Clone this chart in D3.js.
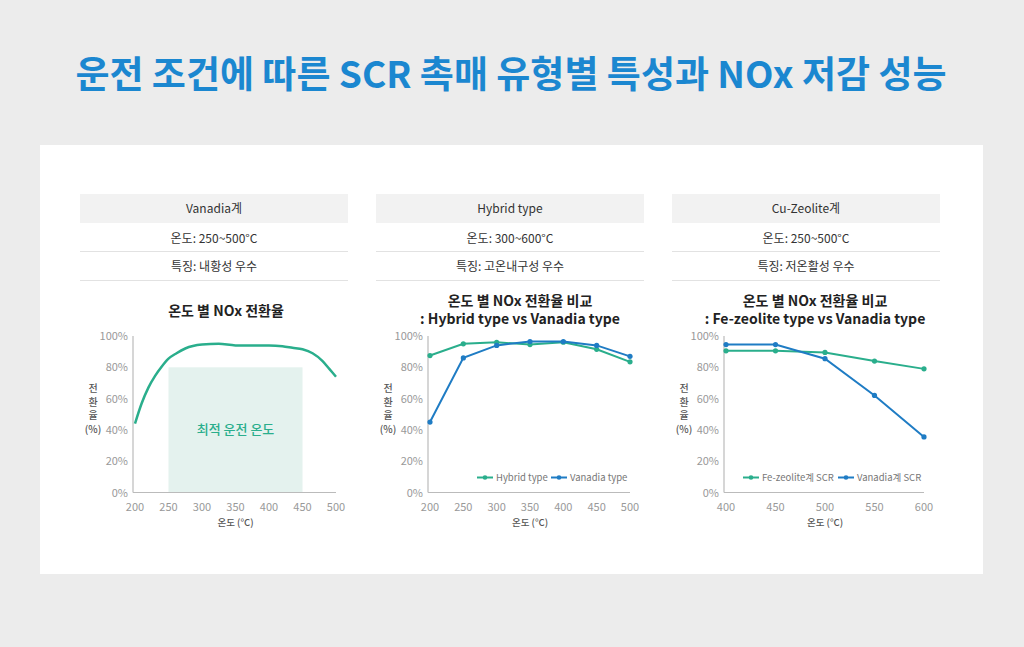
<!DOCTYPE html>
<html>
<head>
<meta charset="utf-8">
<script src="https://cdn.jsdelivr.net/npm/d3@7"></script>
<style>
  body { margin: 0; background: #ececec; }
  svg { display: block; font-family: "Noto Sans CJK KR", "Noto Sans", sans-serif; }
</style>
</head>
<body>
<svg id="chart" width="1024" height="647"></svg>
<script>
// data
const mainTitle = "운전 조건에 따른 SCR 촉매 유형별 특성과 NOx 저감 성능"
const panelNames = ["Vanadia계", "Hybrid type", "Cu-Zeolite계"]
const panelTemps = ["온도: 250~500°C", "온도: 300~600°C", "온도: 250~500°C"]
const panelFeatures = ["특징: 내황성 우수", "특징: 고온내구성 우수", "특징: 저온활성 우수"]

// chart 1 : vanadia curve
const curveTemps = [200, 210, 220, 230, 240, 250, 262, 275, 300, 325, 350, 375, 400, 420, 435, 450, 465, 480, 490, 500]
const curveRates = [44, 57, 67, 74.5, 80.5, 85.5, 89, 92, 94.5, 95, 94, 94, 94, 93.5, 92.5, 91.5, 89, 84, 79, 74]
const optimalRange = [250, 450]
const optimalTop = 80

// chart 2 : hybrid vs vanadia
const temps2 = [200, 250, 300, 350, 400, 450, 500]
const hybridRates = [87.5, 95, 96, 94.5, 96, 91.5, 83.5]
const vanadiaRates2 = [45, 86, 94, 96.5, 96.5, 94, 87]

// chart 3 : fe-zeolite vs vanadia
const temps3 = [400, 450, 500, 550, 600]
const feZeoliteRates = [90.5, 90.5, 89.5, 84, 79]
const vanadiaRates3 = [94.5, 94.5, 85.5, 62, 35.5]

const yTicks = [0, 20, 40, 60, 80, 100]

const green = "#2aae8c"
const blue = "#1f7cc4"
const svg = d3.select("#chart")

svg.append("rect").attr("width", 1024).attr("height", 647).attr("fill", "#ececec")
svg.append("rect")
    .attr("x", 40).attr("y", 145).attr("width", 943).attr("height", 429)
    .attr("fill", "#fff")

svg.append("text")
    .attr("x", 511).attr("y", 88)
    .attr("text-anchor", "middle")
    .attr("font-size", 37).attr("font-weight", 700)
    .attr("fill", "#1b87d0")
    .text(mainTitle)

// header tables
const panelX = [80, 376, 672]
const panelW = 268
panelNames.forEach((name, i) => {
    const g = svg.append("g").attr("transform", `translate(${panelX[i]},0)`)
    g.append("rect").attr("x", 0).attr("y", 194).attr("width", panelW).attr("height", 29).attr("fill", "#f2f2f2")
    g.append("line").attr("x1", 0).attr("x2", panelW).attr("y1", 251.5).attr("y2", 251.5).attr("stroke", "#e2e2e2")
    g.append("line").attr("x1", 0).attr("x2", panelW).attr("y1", 280.5).attr("y2", 280.5).attr("stroke", "#e2e2e2")
    const rows = [[name, 213], [panelTemps[i], 243], [panelFeatures[i], 271]]
    rows.forEach(r => {
        g.append("text")
            .attr("x", panelW / 2).attr("y", r[1])
            .attr("text-anchor", "middle")
            .attr("font-size", 12).attr("fill", "#333")
            .text(r[0])
    })
})

// shared axes helper
function drawAxes(g, x, y, xTicks) {
    g.append("line").attr("x1", x.range()[0] - 2).attr("x2", x.range()[0] - 2)
        .attr("y1", y(100)).attr("y2", y(0)).attr("stroke", "#bbb").attr("stroke-width", 1.2)
    g.append("line").attr("x1", x.range()[0] - 2).attr("x2", x.range()[1])
        .attr("y1", y(0)).attr("y2", y(0)).attr("stroke", "#bbb").attr("stroke-width", 1.2)
    g.selectAll(".yt").data(yTicks).enter().append("text")
        .attr("x", x.range()[0] - 7).attr("y", d => y(d) + 4)
        .attr("text-anchor", "end").attr("font-size", 11).attr("fill", "#999")
        .text(d => d + "%")
    g.selectAll(".xt").data(xTicks).enter().append("text")
        .attr("x", d => x(d)).attr("y", y(0) + 18)
        .attr("text-anchor", "middle").attr("font-size", 11).attr("fill", "#999")
        .text(d => d)
    g.append("text")
        .attr("x", (x.range()[0] + x.range()[1]) / 2).attr("y", y(0) + 33)
        .attr("text-anchor", "middle").attr("font-size", 9.5).attr("font-weight", 500).attr("fill", "#555")
        .text("온도 (°C)")
    const lab = ["전", "환", "율", "(%)"]
    lab.forEach((t, i) => {
        g.append("text")
            .attr("x", x.range()[0] - 42).attr("y", 392 + i * 13.5)
            .attr("text-anchor", "middle").attr("font-size", 10).attr("font-weight", 500).attr("fill", "#555")
            .text(t)
    })
}

function drawTitle(lines, cx) {
    lines.forEach((t, i) => {
        svg.append("text")
            .attr("x", cx).attr("y", lines.length === 1 ? 316 : 306 + i * 18)
            .attr("text-anchor", "middle").attr("font-size", 14).attr("font-weight", 700)
            .attr("fill", "#222")
            .text(t)
    })
}

const y = d3.scaleLinear().domain([0, 100]).range([492.5, 336])

// chart 1
const x1 = d3.scaleLinear().domain([200, 500]).range([135, 336])
const g1 = svg.append("g")
drawTitle(["온도 별 NOx 전환율"], 226)
g1.append("rect")
    .attr("x", x1(optimalRange[0])).attr("y", y(optimalTop))
    .attr("width", x1(optimalRange[1]) - x1(optimalRange[0]))
    .attr("height", y(0) - y(optimalTop))
    .attr("fill", "#e4f2ee")
drawAxes(g1, x1, y, [200, 250, 300, 350, 400, 450, 500])
g1.append("text")
    .attr("x", x1(350)).attr("y", y(40) + 4)
    .attr("text-anchor", "middle").attr("font-size", 13).attr("font-weight", 500)
    .attr("fill", green)
    .text("최적 운전 온도")
g1.append("path")
    .datum(curveTemps.map((t, i) => [t, curveRates[i]]))
    .attr("fill", "none").attr("stroke", green).attr("stroke-width", 2.5)
    .attr("d", d3.line().x(d => x1(d[0])).y(d => y(d[1])).curve(d3.curveMonotoneX))

// line + marker series
function drawSeries(g, x, temps, rates, color) {
    const pts = temps.map((t, i) => [t, rates[i]])
    g.append("path").datum(pts)
        .attr("fill", "none").attr("stroke", color).attr("stroke-width", 2)
        .attr("d", d3.line().x(d => x(d[0])).y(d => y(d[1])))
    g.selectAll(null).data(pts).enter().append("circle")
        .attr("cx", d => x(d[0])).attr("cy", d => y(d[1]))
        .attr("r", 2.6).attr("fill", color)
}

function drawLegend(g, items) {
    items.forEach(it => {
        g.append("line").attr("x1", it.x).attr("x2", it.x + 16)
            .attr("y1", 477.5).attr("y2", 477.5).attr("stroke", it.color).attr("stroke-width", 2)
        g.append("circle").attr("cx", it.x + 8).attr("cy", 477.5).attr("r", 2.3).attr("fill", it.color)
        g.append("text").attr("x", it.x + 19).attr("y", 481)
            .attr("font-size", 9.5).attr("fill", "#777")
            .text(it.label)
    })
}

// chart 2
const x2 = d3.scaleLinear().domain([200, 500]).range([430, 630])
const g2 = svg.append("g")
drawTitle(["온도 별 NOx 전환율 비교", ": Hybrid type vs Vanadia type"], 520)
drawAxes(g2, x2, y, temps2)
drawSeries(g2, x2, temps2, hybridRates, green)
drawSeries(g2, x2, temps2, vanadiaRates2, blue)
drawLegend(g2, [
    { x: 477, color: green, label: "Hybrid type" },
    { x: 551, color: blue, label: "Vanadia type" }
])

// chart 3
const x3 = d3.scaleLinear().domain([400, 600]).range([726, 924])
const g3 = svg.append("g")
drawTitle(["온도 별 NOx 전환율 비교", ": Fe-zeolite type vs Vanadia type"], 815)
drawAxes(g3, x3, y, temps3)
drawSeries(g3, x3, temps3, feZeoliteRates, green)
drawSeries(g3, x3, temps3, vanadiaRates3, blue)
drawLegend(g3, [
    { x: 743, color: green, label: "Fe-zeolite계 SCR" },
    { x: 838, color: blue, label: "Vanadia계 SCR" }
])
</script>
</body>
</html>
